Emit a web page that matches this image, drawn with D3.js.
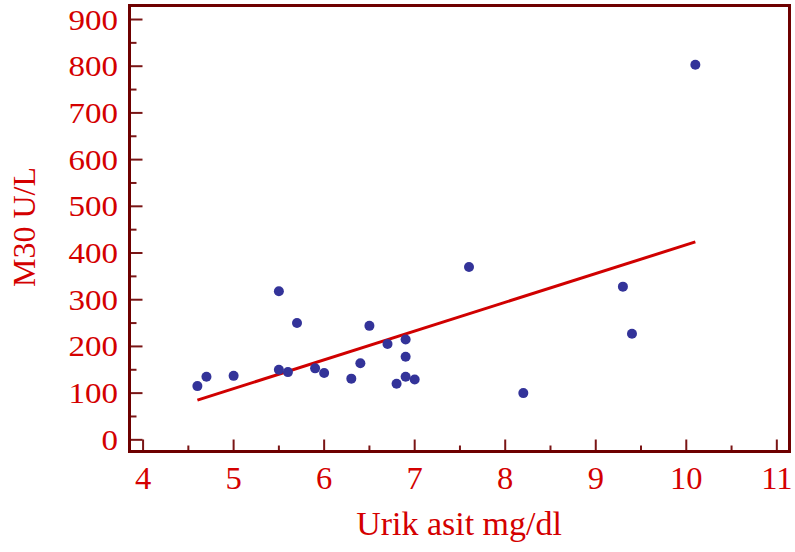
<!DOCTYPE html>
<html>
<head>
<meta charset="utf-8">
<script src="https://cdn.jsdelivr.net/npm/d3@7"></script>
<style>
	html, body { margin: 0; padding: 0; background: #fff; }
	svg { display: block; }
	text { font-family: 'Liberation Serif', 'Times New Roman', serif; fill: #d40000; }
</style>
</head>
<body>
<svg id="chart" width="795" height="552"></svg>
<script>
	// Urik asit (mg/dl) vs M30 (U/L)
	var uricAcid = [4.6, 4.7, 5.0, 5.5, 5.5, 5.6, 5.7, 5.9, 6.0, 6.3, 6.4, 6.5,
		6.7, 6.8, 6.9, 6.9, 6.9, 7.0, 7.6, 8.2, 9.3, 9.4, 10.1];
	var m30 = [115, 135, 137, 318, 150, 145, 250, 153, 143, 131, 164, 244,
		205, 120, 215, 178, 135, 129, 370, 100, 328, 227, 803];
	var xTicks = [4, 5, 6, 7, 8, 9, 10, 11];
	var yTicks = [0, 100, 200, 300, 400, 500, 600, 700, 800, 900];
	var xTitle = 'Urik asit mg/dl';
	var yTitle = 'M30 U/L';

(function() {
	'use strict';

	var axisColor = '#6e0000';
	var tickColor = '#7a1515';
	var left = 129.5, right = 789.5, top = 5.5, bottom = 451.5;

	var svg = d3.select('#chart');

	var x = d3.scaleLinear().domain([3.85, 11.14]).range([left, right]);
	var y = d3.scaleLinear().domain([-25, 930]).range([bottom, top]);

	var points = uricAcid.map(function(v, i) { return {x: v, y: m30[i]}; });

	// least squares fit
	var mx = d3.mean(points, function(d) { return d.x; });
	var my = d3.mean(points, function(d) { return d.y; });
	var sxy = d3.sum(points, function(d) { return (d.x - mx) * (d.y - my); });
	var sxx = d3.sum(points, function(d) { return (d.x - mx) * (d.x - mx); });
	var slope = sxy / sxx;
	var icpt = my - slope * mx;
	var xExt = d3.extent(uricAcid);
	var fit = xExt.map(function(v) { return {x: v, y: icpt + slope * v}; });

	// minor ticks
	var xMinor = xTicks.slice(0, -1).map(function(v) { return v + 0.5; });
	var yMinor = yTicks.map(function(v) { return v + 50; });

	var g = svg.append('g');

	g.selectAll('line.xmaj').data(xTicks).enter().append('line')
		.attr('x1', function(d) { return x(d); }).attr('x2', function(d) { return x(d); })
		.attr('y1', bottom).attr('y2', bottom - 12)
		.attr('stroke', tickColor).attr('stroke-width', 2);
	g.selectAll('line.xmin').data(xMinor).enter().append('line')
		.attr('x1', function(d) { return x(d); }).attr('x2', function(d) { return x(d); })
		.attr('y1', bottom).attr('y2', bottom - 6)
		.attr('stroke', tickColor).attr('stroke-width', 2);
	g.selectAll('line.ymaj').data(yTicks).enter().append('line')
		.attr('y1', function(d) { return y(d); }).attr('y2', function(d) { return y(d); })
		.attr('x1', left).attr('x2', left + 13)
		.attr('stroke', tickColor).attr('stroke-width', 2);
	g.selectAll('line.ymin').data(yMinor).enter().append('line')
		.attr('y1', function(d) { return y(d); }).attr('y2', function(d) { return y(d); })
		.attr('x1', left).attr('x2', left + 7)
		.attr('stroke', tickColor).attr('stroke-width', 2);

	// frame
	g.append('rect')
		.attr('x', left).attr('y', top)
		.attr('width', right - left).attr('height', bottom - top)
		.attr('fill', 'none')
		.attr('stroke', axisColor)
		.attr('stroke-width', 3);

	g.selectAll('text.xlab').data(xTicks).enter().append('text')
		.attr('transform', function(d) { return 'translate(' + x(d) + ',489) scale(1.05,1)'; })
		.attr('text-anchor', 'middle')
		.style('font-size', '31px')
		.text(function(d) { return d; });

	g.selectAll('text.ylab').data(yTicks).enter().append('text')
		.attr('transform', function(d) { return 'translate(118,' + (y(d) + 10) + ') scale(1.1,1)'; })
		.attr('text-anchor', 'end')
		.style('font-size', '30px')
		.text(function(d) { return d; });

	svg.append('text')
		.attr('transform', 'translate(459,535) scale(1.03,1)')
		.attr('text-anchor', 'middle')
		.style('font-size', '33px')
		.text(xTitle);

	svg.append('text')
		.attr('transform', 'translate(35,227) rotate(-90)')
		.attr('text-anchor', 'middle')
		.style('font-size', '32px')
		.text(yTitle);

	svg.append('path')
		.datum(fit)
		.attr('d', d3.line().x(function(d) { return x(d.x); }).y(function(d) { return y(d.y); }))
		.attr('fill', 'none')
		.attr('stroke', '#d00000')
		.attr('stroke-width', 3);

	svg.selectAll('circle.pt').data(points).enter().append('circle')
		.attr('cx', function(d) { return x(d.x); })
		.attr('cy', function(d) { return y(d.y); })
		.attr('r', 5)
		.attr('fill', '#333399');
})();
</script>
</body>
</html>
